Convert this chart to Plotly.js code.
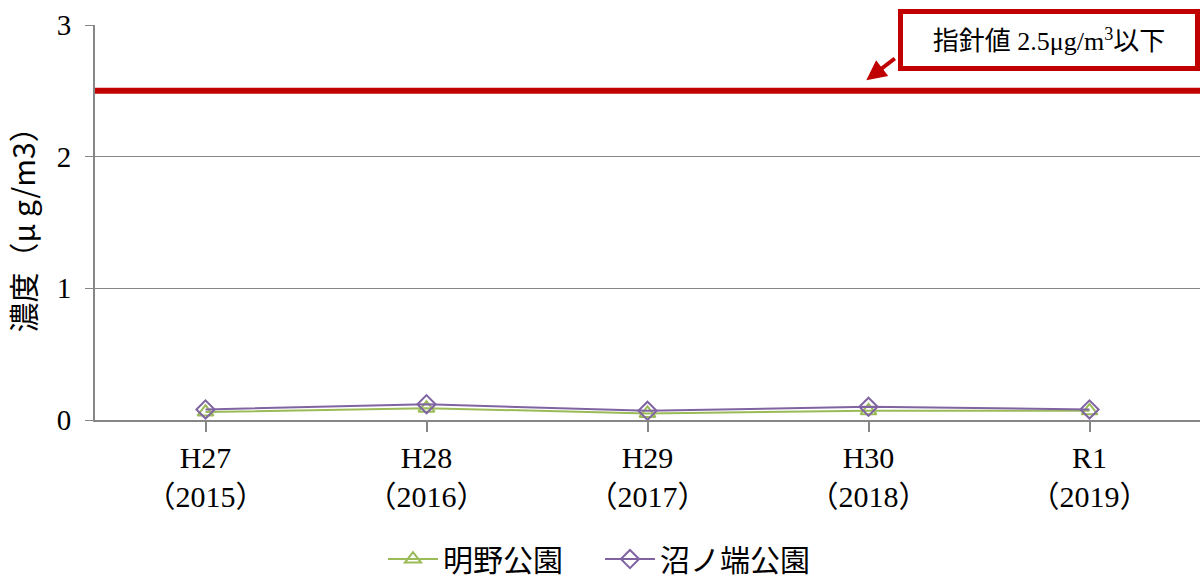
<!DOCTYPE html>
<html>
<head>
<meta charset="utf-8">
<script src="https://cdn.plot.ly/plotly-3.0.1.min.js"></script>
<style>html,body{margin:0;padding:0;background:#fff}#chart{width:1201px;height:578px}</style>
</head>
<body>
<div id="chart"></div>
<script>
const categories = ["H27<br>（2015）", "H28<br>（2016）", "H29<br>（2017）", "H30<br>（2018）", "R1<br>（2019）"];
const akenoValues = [0.06, 0.09, 0.05, 0.07, 0.07];
const numanohataValues = [0.08, 0.12, 0.07, 0.10, 0.08];
const seriesNames = ["明野公園", "沼ノ端公園"];
const guidelineValue = 2.5;
const guidelineLabel = "指針値 2.5μg/m<sup>3</sup>以下";
const yTickValues = [0, 1, 2, 3];

const serif = "Liberation Serif, Noto Sans CJK JP, serif";
const xIdx = categories.map((c, i) => i);

const traces = [
  {
    x: xIdx, y: akenoValues, name: seriesNames[0], type: "scatter", mode: "lines+markers",
    line: {color: "#9BBB59", width: 2},
    marker: {symbol: "triangle-up-open", size: 14, color: "#9BBB59", line: {width: 2, color: "#9BBB59"}}
  },
  {
    x: xIdx, y: numanohataValues, name: seriesNames[1], type: "scatter", mode: "lines+markers",
    line: {color: "#8064A2", width: 2},
    marker: {symbol: "diamond-open", size: 14, color: "#8064A2", line: {width: 2, color: "#8064A2"}}
  }
];

const layout = {
  width: 1201, height: 578,
  margin: {l: 95, r: 1, t: 25, b: 158, autoexpand: false},
  paper_bgcolor: "#fff", plot_bgcolor: "#fff",
  font: {family: serif, color: "#000", size: 30},
  showlegend: true,
  legend: {orientation: "h", x: 0.457, xanchor: "center", y: -0.352, yanchor: "middle",
           font: {family: "Noto Sans CJK JP, serif", size: 30}, itemwidth: 50, tracegroupgap: 0,
           entrywidth: 152, entrywidthmode: "pixels"},
  xaxis: {
    range: [-0.5, 4.5], tickmode: "array", tickvals: xIdx, ticktext: categories,
    tickson: "boundaries", ticks: "outside", ticklen: 10, tickcolor: "#868686", tickwidth: 2,
    showline: true, linecolor: "#868686", linewidth: 2, showgrid: false, zeroline: false,
    tickfont: {family: serif, size: 30}, fixedrange: true
  },
  yaxis: {
    range: [0, 3], tickmode: "array", tickvals: yTickValues,
    ticks: "outside", ticklen: 8, tickcolor: "#868686", tickwidth: 1,
    showline: true, linecolor: "#868686", linewidth: 2, ticklabelstandoff: 8,
    showgrid: true, gridcolor: "#868686", gridwidth: 1, zeroline: false,
    tickfont: {family: serif, size: 29},
    title: {text: "濃度（μ g/m3）", font: {family: "Noto Sans CJK JP, serif", size: 30}, standoff: 16}
  },
  shapes: [
    {type: "line", xref: "paper", x0: 0, x1: 1, yref: "y", y0: guidelineValue, y1: guidelineValue,
     line: {color: "#C00000", width: 6}}
  ],
  annotations: [
    {xref: "paper", yref: "paper", x: 0.863, y: 0.962, xanchor: "center", yanchor: "middle",
     text: guidelineLabel, showarrow: false, bgcolor: "#fff", bordercolor: "#C00000", borderwidth: 5,
     borderpad: 0, width: 292, height: 52, font: {family: serif, size: 26, color: "#000"}},
    {xref: "x", yref: "y", x: 2.99, y: 2.58, text: " ", showarrow: true, ax: 34, ay: -26,
     arrowcolor: "#C00000", arrowwidth: 4, arrowhead: 2, arrowsize: 1}
  ]
};

Plotly.newPlot("chart", traces, layout, {displayModeBar: false, staticPlot: true});
</script>
</body>
</html>
